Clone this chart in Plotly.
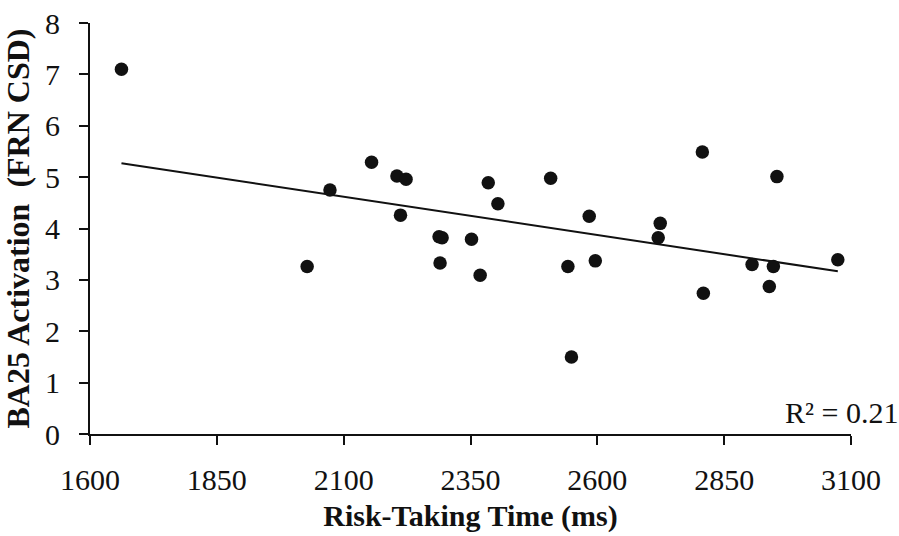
import numpy as np
import plotly.graph_objects as go

# Risk-taking time (ms) and BA25 activation (FRN CSD) per participant
risk_time_ms = [1662, 2028, 2073, 2155, 2205, 2223, 2212, 2288, 2294, 2290,
                2352, 2369, 2385, 2404, 2508, 2542, 2549, 2584, 2596, 2724,
                2720, 2807, 2809, 2905, 2939, 2947, 2954, 3074]
ba25_activation = [7.10, 3.26, 4.75, 5.29, 5.02, 4.96, 4.26, 3.84, 3.82, 3.33,
                   3.79, 3.09, 4.89, 4.48, 4.98, 3.26, 1.50, 4.24, 3.37, 4.10,
                   3.82, 5.49, 2.74, 3.30, 2.87, 3.26, 5.01, 3.39]

x_ticks = [1600, 1850, 2100, 2350, 2600, 2850, 3100]
y_ticks = [0, 1, 2, 3, 4, 5, 6, 7, 8]
r_squared_label = "R² = 0.21"

# Least-squares linear trend across the observed range
xs = np.array(risk_time_ms, dtype=float)
ys = np.array(ba25_activation, dtype=float)
slope, intercept = np.polyfit(xs, ys, 1)
trend_x = [xs.min(), xs.max()]
trend_y = [slope * v + intercept for v in trend_x]

FONT = "Liberation Serif, Times New Roman, serif"
INK = "#111111"

fig = go.Figure()
fig.add_trace(go.Scatter(
    x=trend_x, y=trend_y, mode="lines",
    line=dict(color=INK, width=2), hoverinfo="skip", showlegend=False,
))
fig.add_trace(go.Scatter(
    x=risk_time_ms, y=ba25_activation, mode="markers",
    marker=dict(color=INK, size=13.5, line=dict(width=0)),
    showlegend=False,
))

axis_common = dict(
    showgrid=False, zeroline=False, showline=True, automargin=False,
    linecolor=INK, linewidth=2,
    ticks="outside", ticklen=9, tickwidth=2, tickcolor=INK,
    tickfont=dict(family=FONT, size=30, color=INK),
)

fig.update_xaxes(
    range=[1600, 3100], tickvals=x_ticks, ticktext=[str(t) for t in x_ticks],
    ticklabelstandoff=9,
    title=dict(text="<b>Risk-Taking Time (ms)</b>",
               font=dict(family=FONT, size=30, color=INK), standoff=10),
    **axis_common,
)
fig.update_yaxes(
    range=[0, 8], tickvals=y_ticks, ticktext=[str(t) for t in y_ticks],
    ticklabelstandoff=13,
    title=dict(text="<b>BA25 Activation  (FRN CSD)</b>",
               font=dict(family=FONT, size=32, color=INK), standoff=8),
    **axis_common,
)

fig.add_annotation(
    text=r_squared_label, xref="paper", yref="paper",
    x=1.0 + 49 / 761, y=0.0, xanchor="right", yanchor="bottom",
    yshift=3, showarrow=False,
    font=dict(family=FONT, size=30, color=INK),
)

fig.update_layout(
    width=899, height=536,
    margin=dict(l=90, r=48, t=23, b=102),
    paper_bgcolor="white", plot_bgcolor="white",
)

fig.write_html("out.html")
